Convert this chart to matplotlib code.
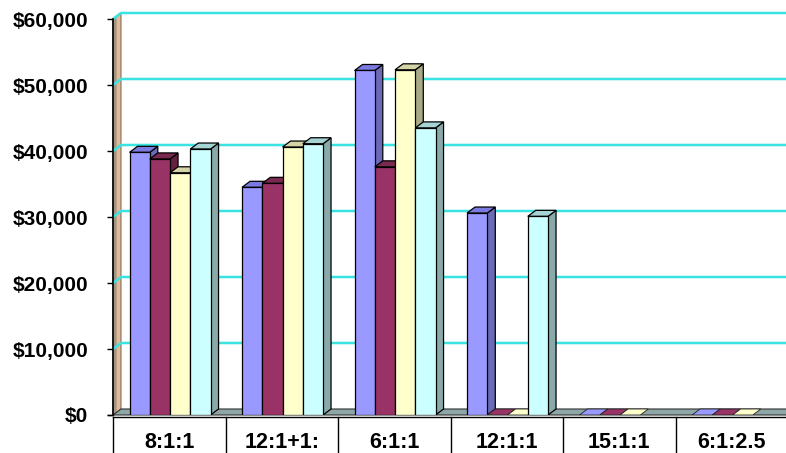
import numpy as np
import matplotlib
matplotlib.use("Agg")
import matplotlib.pyplot as plt
from matplotlib.patches import Polygon
from matplotlib.transforms import blended_transform_factory
from matplotlib.ticker import FuncFormatter

categories = ["8:1:1", "12:1+1:", "6:1:1", "12:1:1", "15:1:1", "6:1:2.5"]
series_blue = [39800, 34500, 52200, 30600, 0, 0]
series_maroon = [38800, 35100, 37600, 0, 0, 0]
series_yellow = [36700, 40600, 52300, 0, 0, 0]
series_cyan = [40300, 41100, 43500, 30100, np.nan, np.nan]
yticks = [0, 10000, 20000, 30000, 40000, 50000, 60000]

plt.rcParams['font.family'] = ['Liberation Sans', 'DejaVu Sans']
plt.rcParams['font.weight'] = 'bold'

W, H = 786, 453
fig = plt.figure(figsize=(W / 100, H / 100), dpi=100)
fig.patch.set_facecolor('white')

x0, x1 = 113, 788
y0, y1 = 415, 19
ax = fig.add_axes([x0 / W, (H - y0) / H, (x1 - x0) / W, (y0 - y1) / H])
ax.set_xlim(0, len(categories))
ax.set_ylim(0, 60000)
ax.set_facecolor('none')
for s in ['top', 'right', 'bottom']:
    ax.spines[s].set_visible(False)
ax.spines['left'].set_linewidth(1.2)
ax.spines['left'].set_zorder(6)

# depth offsets in data units
px_x = len(categories) / (x1 - x0)
px_y = 60000 / (y0 - y1)
dx = 8 * px_x
dy = 6 * px_y

grid_color = '#3ae2e2'
# left wall
wall = Polygon([(0, 0), (dx, dy), (dx, 60000 + dy), (0, 60000)], closed=True,
               facecolor='#e3b896', edgecolor='#807060', lw=0.8, zorder=1, clip_on=False)
ax.add_patch(wall)
ax.add_patch(Polygon([(0, 0), (dx * 0.45, dy * 0.45), (dx * 0.45, 60000 + dy * 0.45), (0, 60000)],
                     closed=True, facecolor='#a09484', edgecolor='none', zorder=1.1, clip_on=False))
# gridlines
for v in yticks[1:]:
    ax.plot([0, dx, len(categories) + 1], [v, v + dy, v + dy], color=grid_color, lw=1.8,
            zorder=2, clip_on=False, solid_capstyle='butt')
# floor
floor = Polygon([(0, 0), (dx, dy), (len(categories) + 1, dy), (len(categories) + 1, 0)], closed=True,
                facecolor='#8ea6a6', edgecolor='#303030', lw=0.8, zorder=2.5, clip_on=False)
ax.add_patch(floor)

series = [series_blue, series_maroon, series_yellow, series_cyan]
front_c = ['#9999ff', '#993366', '#ffffcc', '#ccffff']
top_c = ['#7a7ae0', '#7a2950', '#d4d4a6', '#a6d4d4']
side_c = ['#6a6ab8', '#66203f', '#aaaa88', '#88aaaa']

bw = 0.18
start = 0.147
for i in range(len(categories)):
    for k, vals in enumerate(series):
        v = vals[i]
        if v is None or np.isnan(v):
            continue
        xl = i + start + k * bw
        xr = xl + bw
        z = 3 + i * 0.1 + k * 0.01
        if v > 0:
            ax.add_patch(Polygon([(xr, 0), (xr + dx, dy), (xr + dx, v + dy), (xr, v)], closed=True,
                                 facecolor=side_c[k], edgecolor='black', lw=0.9, zorder=z))
            ax.add_patch(Polygon([(xl, v), (xl + dx, v + dy), (xr + dx, v + dy), (xr, v)], closed=True,
                                 facecolor=top_c[k], edgecolor='black', lw=0.9, zorder=z))
            ax.add_patch(Polygon([(xl, 0), (xl, v), (xr, v), (xr, 0)], closed=True,
                                 facecolor=front_c[k], edgecolor='black', lw=0.9, zorder=z))
        else:
            ax.add_patch(Polygon([(xl, 0), (xl + dx, dy), (xr + dx, dy), (xr, 0)], closed=True,
                                 facecolor=front_c[k], edgecolor='#202020',
                                 lw=0.6, zorder=z))

ax.set_yticks(yticks)
ax.yaxis.set_major_formatter(FuncFormatter(lambda v, p: "${:,.0f}".format(v)))
ax.tick_params(axis='y', length=4, width=1.0, pad=14, labelsize=15)
for lab in ax.get_yticklabels():
    lab.set_fontweight('bold')
ax.set_xticks([])

# category label box
bt = blended_transform_factory(ax.transData, fig.transFigure)
ytop = (H - 417) / H
ax.plot([0, len(categories) + 1], [ytop, ytop], color='black', lw=1.0, transform=bt, clip_on=False)
ax.plot([-0.045, 0], [(H - 415) / H] * 2, color='black', lw=1.0, transform=bt, clip_on=False)
for i in range(len(categories) + 1):
    ax.plot([i, i], [0, ytop], color='black', lw=1.0, transform=bt, clip_on=False)
for i, c in enumerate(categories):
    ax.text(i + 0.5, (H - 448) / H, c, transform=bt, ha='center', va='baseline',
            fontsize=15.5, fontweight='bold', clip_on=False)

fig.savefig("out.png", dpi=100)
